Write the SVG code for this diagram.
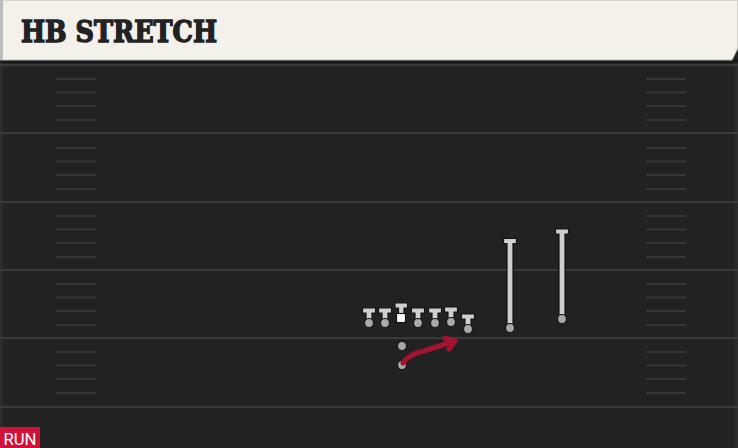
<svg xmlns="http://www.w3.org/2000/svg" width="738" height="448" viewBox="0 0 738 448">
<style>
.fl{stroke:#3a3a3a;stroke-width:2}
.hs{stroke:#363636;stroke-width:2}
.pl{fill:#cfcfcf;stroke:#141414;stroke-width:1.2}
.dot{fill:#a9a9a9;stroke:#141414;stroke-width:1.2}
.rt{fill:none;stroke:#a3142f;stroke-width:5;stroke-linecap:round;stroke-linejoin:round}
</style>
<defs>
<g id="hashes">
<line class="hs" x1="56" y1="0" x2="96" y2="0"/>
<line class="hs" x1="56" y1="13.5" x2="96" y2="13.5"/>
<line class="hs" x1="56" y1="27" x2="96" y2="27"/>
<line class="hs" x1="56" y1="41" x2="96" y2="41"/>
<line class="hs" x1="646" y1="0" x2="686" y2="0"/>
<line class="hs" x1="646" y1="13.5" x2="686" y2="13.5"/>
<line class="hs" x1="646" y1="27" x2="686" y2="27"/>
<line class="hs" x1="646" y1="41" x2="686" y2="41"/>
</g>
<g id="lineman">
<path class="pl" d="M-6.5,-15 H6.5 V-10 H3 V0 H-3 V-10 H-6.5 Z"/>
<circle class="dot" cx="0" cy="0" r="4.5"/>
</g>
</defs>
<g id="field">
<rect x="0" y="0" width="738" height="448" fill="#222222"/>
<rect x="0" y="60" width="3" height="388" fill="#2c2c2c"/>
<rect x="735" y="60" width="3" height="388" fill="#2c2c2c"/>
<line class="fl" x1="0" y1="65" x2="738" y2="65"/>
<line class="fl" x1="0" y1="133" x2="738" y2="133"/>
<line class="fl" x1="0" y1="202" x2="738" y2="202"/>
<line class="fl" x1="0" y1="270" x2="738" y2="270"/>
<line class="fl" x1="0" y1="338" x2="738" y2="338"/>
<line class="fl" x1="0" y1="407" x2="738" y2="407"/>
<use href="#hashes" y="79"/>
<use href="#hashes" y="148"/>
<use href="#hashes" y="216"/>
<use href="#hashes" y="284"/>
<use href="#hashes" y="352"/>
</g>
<g id="header">
<rect x="0" y="59" width="738" height="4" fill="#191919"/>
<path d="M0,0 H738 V48 L732,60 H0 Z" fill="#f4f1ea" stroke="#bdbab4" stroke-width="1"/>
<rect x="0" y="0" width="3" height="60" fill="#bcbcbc"/>
<text x="21" y="42" font-family="DejaVu Serif, serif" font-weight="bold" font-size="29" fill="#222222" stroke="#222222" stroke-width="1.4" stroke-linejoin="miter" textLength="196" lengthAdjust="spacingAndGlyphs">HB STRETCH</text>
</g>
<g id="lt"><use href="#lineman" x="369" y="323"/></g>
<g id="lg"><use href="#lineman" x="385" y="323"/></g>
<g id="c">
<path class="pl" d="M395,303 H407.5 V308 H404 V314 H398.5 V308 H395 Z"/>
<rect x="396.5" y="313.5" width="9" height="9" fill="#ffffff" stroke="#141414" stroke-width="1.2"/>
</g>
<g id="rg"><use href="#lineman" x="418" y="323"/></g>
<g id="rt"><use href="#lineman" x="435" y="323"/></g>
<g id="te"><use href="#lineman" x="451" y="322"/></g>
<g id="wing"><use href="#lineman" x="468" y="329"/></g>
<g id="qb"><circle class="dot" cx="402" cy="346" r="4.5"/></g>
<g id="rb"><circle class="dot" cx="402" cy="365" r="4.5"/></g>
<g id="wr1">
<path class="pl" d="M503.5,238.5 H516.5 V243.5 H513 V328 H507 V243.5 H503.5 Z"/>
<circle class="dot" cx="510" cy="328" r="4.5"/>
</g>
<g id="wr2">
<path class="pl" d="M555.5,229 H568.5 V234 H565 V319 H559 V234 H555.5 Z"/>
<circle class="dot" cx="562" cy="319" r="4.5"/>
</g>
<g id="connectors">
<path class="rt" d="M403,363 Q409,354 424,351 L453,341.5"/>
<path class="rt" d="M445,338 L455,341 L449,349"/>
</g>
<g id="tag">
<rect x="0" y="427" width="40" height="21" fill="#d2103a"/>
<text x="3.5" y="444.5" font-family="Roboto, sans-serif" font-size="16" fill="#ffffff" textLength="33" lengthAdjust="spacingAndGlyphs">RUN</text>
</g>
</svg>
